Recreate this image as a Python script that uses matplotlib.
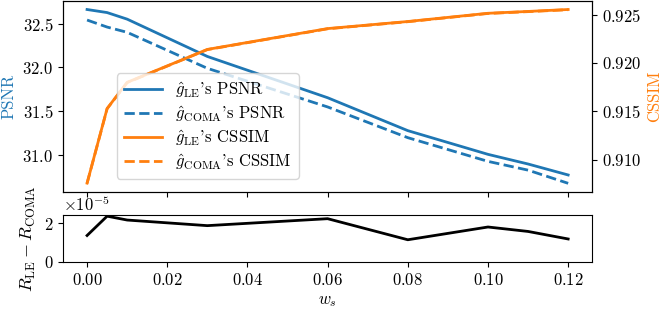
import matplotlib
matplotlib.use('Agg')
import matplotlib.pyplot as plt

# fonts close to the LaTeX look of the original
plt.rcParams['font.family'] = 'serif'
plt.rcParams['font.serif'] = ['cmr10', 'DejaVu Serif']
plt.rcParams['mathtext.fontset'] = 'cm'
plt.rcParams['axes.formatter.use_mathtext'] = True
plt.rcParams['font.size'] = 12

# weight of the smoothness term
ws = [0.0, 0.005, 0.01, 0.03, 0.06, 0.08, 0.10, 0.11, 0.12]

# PSNR of both estimators
psnr_le = [32.66, 32.625, 32.55, 32.125, 31.655, 31.28, 31.01, 30.90, 30.775]
psnr_coma = [32.54, 32.46, 32.40, 31.99, 31.55, 31.20, 30.93, 30.83, 30.68]

# CSSIM of both estimators
cssim_le = [0.9076, 0.9153, 0.9180, 0.9214, 0.92355, 0.92428, 0.92513, 0.92532, 0.92552]
cssim_coma = [0.90758, 0.91528, 0.91798, 0.92138, 0.92353, 0.92426, 0.92511, 0.92530, 0.92550]

# rate difference
rate_diff = [1.37e-5, 2.37e-5, 2.17e-5, 1.88e-5, 2.24e-5, 1.15e-5, 1.81e-5, 1.58e-5, 1.19e-5]

fig = plt.figure(figsize=(6.64, 3.11), dpi=100)
ax1 = fig.add_axes([0.0949, 0.3826, 0.797, 0.6148])
ax3 = fig.add_axes([0.0949, 0.1576, 0.797, 0.1511], sharex=ax1)
ax2 = ax1.twinx()

l1, = ax1.plot(ws, psnr_le, color='C0', lw=2, label=r"$\hat{g}_{\mathrm{LE}}$'s PSNR")
l2, = ax1.plot(ws, psnr_coma, color='C0', lw=2, ls='--', label=r"$\hat{g}_{\mathrm{COMA}}$'s PSNR")
l3, = ax2.plot(ws, cssim_le, color='C1', lw=2, label=r"$\hat{g}_{\mathrm{LE}}$'s CSSIM")
l4, = ax2.plot(ws, cssim_coma, color='C1', lw=2, ls='--', label=r"$\hat{g}_{\mathrm{COMA}}$'s CSSIM")

ax1.set_ylabel('PSNR', color='C0')
ax2.set_ylabel('CSSIM', color='C1')
ax1.tick_params(labelbottom=False)

ax2.legend(handles=[l1, l2, l3, l4], loc='lower left', bbox_to_anchor=(0.102, 0.07),
           borderaxespad=0, handlelength=2.3, labelspacing=0.25)

ax3.plot(ws, rate_diff, color='black', lw=2)
ax3.set_ylim(bottom=0)
ax3.set_xlabel(r'$w_s$')
ax3.set_ylabel(r'$R_{\mathrm{LE}} - R_{\mathrm{COMA}}$', fontsize=13)

fig.savefig('out.png', dpi=100)
